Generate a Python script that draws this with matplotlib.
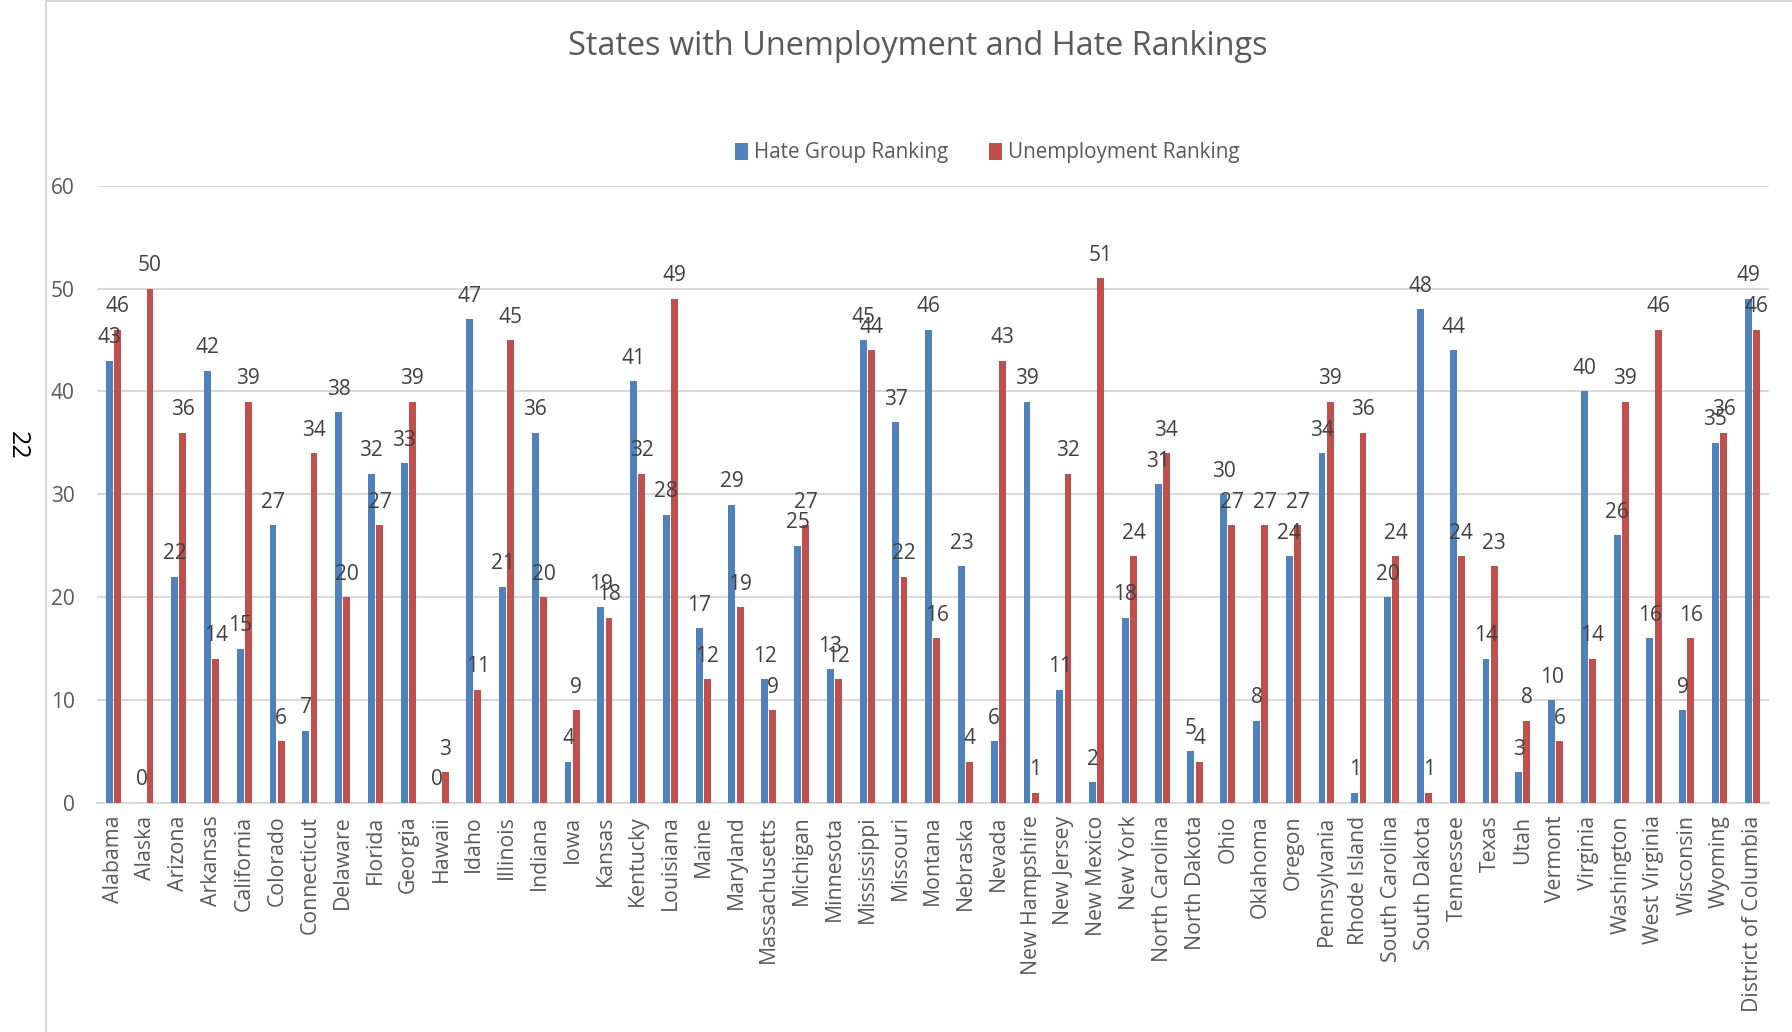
import numpy as np
import matplotlib.pyplot as plt
from matplotlib.lines import Line2D

states = ["Alabama", "Alaska", "Arizona", "Arkansas", "California", "Colorado",
          "Connecticut", "Delaware", "Florida", "Georgia", "Hawaii", "Idaho",
          "Illinois", "Indiana", "Iowa", "Kansas", "Kentucky", "Louisiana",
          "Maine", "Maryland", "Massachusetts", "Michigan", "Minnesota",
          "Mississippi", "Missouri", "Montana", "Nebraska", "Nevada",
          "New Hampshire", "New Jersey", "New Mexico", "New York",
          "North Carolina", "North Dakota", "Ohio", "Oklahoma", "Oregon",
          "Pennsylvania", "Rhode Island", "South Carolina", "South Dakota",
          "Tennessee", "Texas", "Utah", "Vermont", "Virginia", "Washington",
          "West Virginia", "Wisconsin", "Wyoming", "District of Columbia"]

hate = [43, 0, 22, 42, 15, 27, 7, 38, 32, 33, 0, 47, 21, 36, 4, 19, 41, 28,
        17, 29, 12, 25, 13, 45, 37, 46, 23, 6, 39, 11, 2, 18, 31, 5, 30, 8,
        24, 34, 1, 20, 48, 44, 14, 3, 10, 40, 26, 16, 9, 35, 49]

unemployment = [46, 50, 36, 14, 39, 6, 34, 20, 27, 39, 3, 11, 45, 20, 9, 18,
                32, 49, 12, 19, 9, 27, 12, 44, 22, 16, 4, 43, 1, 32, 51, 24,
                34, 4, 27, 27, 27, 39, 36, 24, 1, 24, 23, 8, 6, 14, 39, 46,
                16, 36, 46]

plt.rcParams['font.family'] = ['Open Sans', 'DejaVu Sans']
grey = "#595959"
blue = "#4f81bd"
red = "#c0504d"

fig = plt.figure(figsize=(17.92, 10.32), dpi=100)
ax = fig.add_axes([0.054, 0.222, 0.933, 0.598])

x = np.arange(len(states))
w = 0.21
off = 0.125
b1 = ax.bar(x - off, hate, w, color=blue, label="Hate Group Ranking", zorder=3)
b2 = ax.bar(x + off, unemployment, w, color=red, label="Unemployment Ranking", zorder=3)

# data labels above each bar (they overlap in places, as in the original)
for bars in (b1, b2):
    for r in bars:
        h = r.get_height()
        ax.annotate(str(int(h)), (r.get_x() + r.get_width() / 2, h),
                    xytext=(0, 9), textcoords="offset points",
                    ha="center", va="bottom", fontsize=15, color="#404040")

ax.set_xlim(-0.5, len(states) - 0.5)
ax.set_ylim(0, 60)
ax.set_yticks(range(0, 61, 10))
ax.yaxis.grid(True, color="#d9d9d9", linewidth=1.5, zorder=0)
ax.set_xticks(x)
ax.set_xticklabels(states, rotation=90, fontsize=15.3, color=grey)
ax.tick_params(axis="y", labelsize=15, labelcolor=grey, length=0, pad=16)
ax.tick_params(axis="x", length=0, pad=9)
for s in ["top", "right", "left"]:
    ax.spines[s].set_visible(False)
ax.spines["bottom"].set_color("#d9d9d9")
ax.spines["bottom"].set_linewidth(1.5)

fig.text(0.512, 0.955, "States with Unemployment and Hate Rankings",
         ha="center", va="center", fontsize=23.4, color=grey)
fig.legend(loc="center", bbox_to_anchor=(0.551, 0.852), ncol=2, frameon=False,
           fontsize=14.9, labelcolor=grey, handlelength=0.6, handleheight=0.9,
           handletextpad=0.3, columnspacing=2.0)

fig.text(0.0095, 0.568, "22", rotation=270, ha="center", va="center",
         fontsize=18, color="black")

# chart border
fig.add_artist(Line2D([0.0257, 0.0257], [0, 0.999], color="#d9d9d9", linewidth=1.5))
fig.add_artist(Line2D([0.0257, 1], [0.999, 0.999], color="#d9d9d9", linewidth=1.5))

fig.savefig("out.png", dpi=100)
